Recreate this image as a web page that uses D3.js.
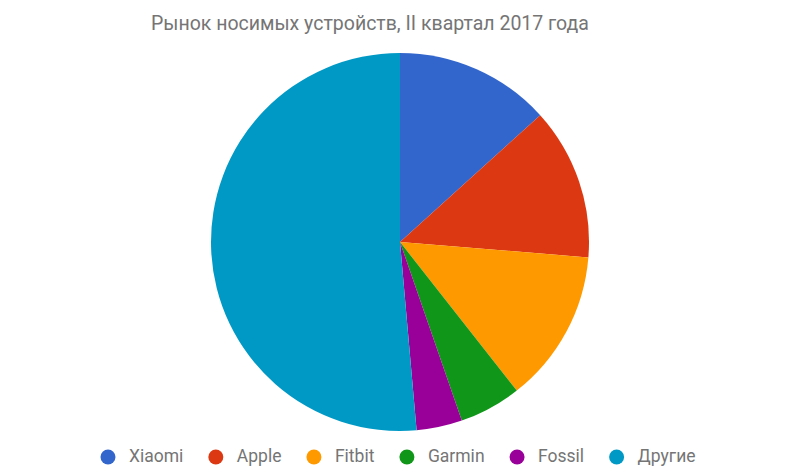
<!DOCTYPE html>
<html>
<head>
<meta charset="utf-8">
<script src="https://cdn.jsdelivr.net/npm/d3@7"></script>
<style>
  body { margin: 0; background: #fff; }
  text { font-family: Roboto, sans-serif; }
</style>
</head>
<body>
<svg id="chart"></svg>
<script>
var brands = ["Xiaomi", "Apple", "Fitbit", "Garmin", "Fossil", "Другие"];
var shares = [13.3, 13.0, 13.1, 5.3, 3.9, 51.4];
var colors = ["#3366cc", "#dc3912", "#ff9900", "#109618", "#990099", "#0099c6"];
var title = "Рынок носимых устройств, II квартал 2017 года";

var width = 792, height = 476;
var cx = 400, cy = 242, radius = 189;

var data = brands.map(function(b, i){ return {name: b, value: shares[i]}; });

var chart = d3.select('#chart')
	.attr('width', width)
	.attr('height', height);

chart.append('text')
	.attr('x', 151)
	.attr('y', 30)
	.attr('fill', '#757575')
	.style('font-size', '19.5px')
	.text(title);

var color = d3.scaleOrdinal().domain(brands).range(colors);

var pie = d3.pie()
	.sort(null)
	.value(function(d){ return d.value; });

var arc = d3.arc().innerRadius(0).outerRadius(radius);

chart.append('g')
	.attr('transform', 'translate(' + cx + ',' + cy + ')')
	.selectAll('path')
	.data(pie(data))
	.enter().append('path')
	.attr('d', arc)
	.attr('fill', function(d){ return color(d.data.name); });

// legend, laid out from measured text widths
var legend = chart.append('g');
var items = legend.selectAll('g')
	.data(brands)
	.enter().append('g');

items.append('circle')
	.attr('cx', 7.5)
	.attr('cy', 457)
	.attr('r', 7.5)
	.attr('fill', function(d){ return color(d); });

items.append('text')
	.attr('x', 28.5)
	.attr('y', 462)
	.attr('fill', '#757575')
	.style('font-size', '17.5px')
	.text(function(d){ return d; });

var pos = 0;
items.each(function(){
	var w = d3.select(this).select('text').node().getComputedTextLength();
	d3.select(this).attr('transform', 'translate(' + pos + ',0)');
	pos += 28.5 + w + 25;
});
var total = pos - 25;
legend.attr('transform', 'translate(' + (398 - total / 2) + ',0)');
</script>
</body>
</html>
